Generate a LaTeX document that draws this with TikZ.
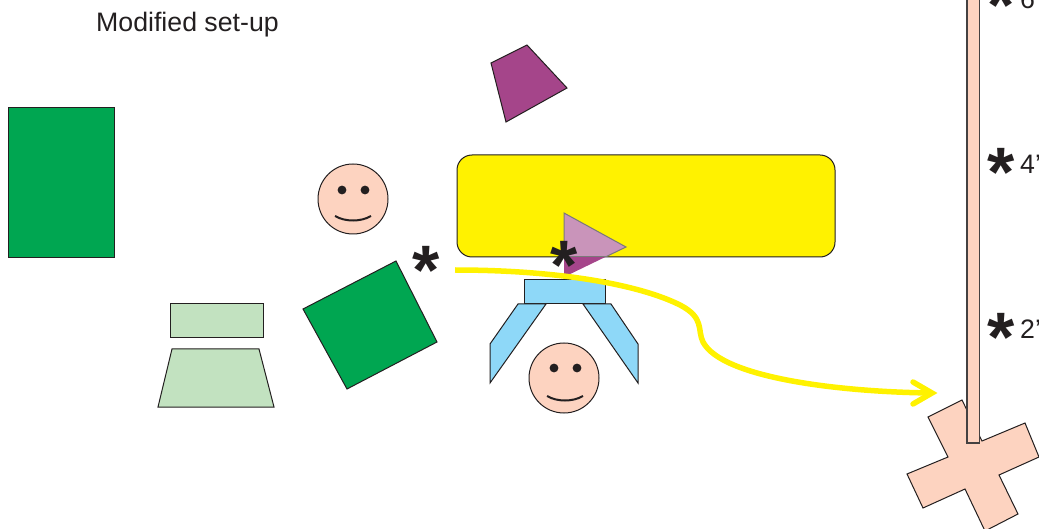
\documentclass[tikz,border=0pt]{standalone}
\usepackage{fontspec}
\setmainfont{Liberation Sans}
\newfontfamily\starfont[Scale=1]{Liberation Sans Bold}
\definecolor{grn}{HTML}{00A651}
\definecolor{lgrn}{HTML}{C2E2C0}
\definecolor{purp}{HTML}{A5458A}
\definecolor{lpurp}{HTML}{C994BA}
\definecolor{yel}{HTML}{FFF200}
\definecolor{skin}{HTML}{FDD3C0}
\definecolor{blu}{HTML}{8ED8F8}
\definecolor{ink}{HTML}{231F20}
\tikzset{
  shp/.style={draw=ink,line width=1pt,line join=miter},
  facebox/.style={shp,fill=skin},
  eye/.style={fill=ink,draw=none},
  smile/.style={draw=ink,line width=2pt},
  lbl/.style={inner sep=0pt,anchor=base west,text=ink,font=\fontsize{26.7}{28}\selectfont},
  starmark/.style={inner sep=0pt,anchor=base,text=ink,font=\starfont\fontsize{70}{72}\selectfont},
  yline/.style={draw=yel,line width=5.5pt}
}
\begin{document}
\begin{tikzpicture}[x=1pt,y=-1pt]
\useasboundingbox (0,0) rectangle (1039,529);
\clip (0,0) rectangle (1039,529);
\node[lbl,anchor=base west] (title) at (96,32) {Modified set-up};
\draw[shp,fill=grn] (8,107.5) rectangle (114,258);
\draw[shp,fill=purp] (491,63) -- (527,45) -- (567,88) -- (506,122) -- cycle;
\draw[shp,fill=lgrn] (170,303.5) rectangle (263,337.5);
\draw[shp,fill=lgrn] (172,349) -- (259,349) -- (274,407) -- (158,407) -- cycle;
\draw[shp,fill=grn] (303,309) -- (396,261) -- (437,342) -- (347,389) -- cycle;
% yellow panel and triangle
\draw[shp,fill=yel,rounded corners=15pt] (457,155) rectangle (835,257);
\fill[purp] (564,213) -- (626,247) -- (564,277) -- cycle;
\begin{scope}
\clip (500,200) rectangle (700,257);
\fill[lpurp] (564,213) -- (626,247) -- (564,277) -- cycle;
\draw[draw=ink!60,line width=1pt] (564,277) -- (564,213) -- (626,247) -- (564,277);
\end{scope}
\draw[ink!60,line width=1pt] (564,257) -- (607,257);
% faces
\draw[facebox] (353,199) circle (35);
\fill[eye] (342,190) circle (4.4) (365,190) circle (4.4);
\draw[smile] (335,216) .. controls (345,222) and (361,222) .. (371,216);
\draw[facebox] (564,378) circle (35);
\fill[eye] (554,368) circle (4.4) (577,368) circle (4.4);
\draw[smile] (547,396) .. controls (557,402) and (573,402) .. (583,396);
% blue gripper
\draw[shp,fill=blu] (524,279.5) rectangle (605,304);
\draw[shp,fill=blu] (518,304) -- (546,304) -- (490,383) -- (490,344) -- cycle;
\draw[shp,fill=blu] (583,304) -- (611,304) -- (638,344) -- (638,383) -- cycle;
% cross and post
\draw[shp,fill=skin] (928,417) -- (962,400) -- (982,441) -- (1025,423) -- (1039,457) -- (999,475) -- (1018,514) -- (985,531) -- (965,489) -- (923,508) -- (907,474) -- (948,457) -- cycle;
\draw[shp,draw=ink!85,line width=1.3pt,fill=skin] (967,-5) rectangle (979.5,443);
% yellow route
\coordinate (rs) at (455,270);
\coordinate (rt) at (932,393);
\draw[yline] (rs) .. controls (560,270) and (640,285) .. (680,305)
  .. controls (705,318) and (697,330) .. (703,342)
  .. controls (722,378) and (840,392) .. (rt);
\draw[yline,line cap=round,line join=miter] (913,382) -- (rt) -- (913,404);
% stars
\node[starmark] (s1) at (426,295) {*};
\node[starmark] (s2) at (564,290) {*};
\node[starmark] (s3) at (1001,30) {*};
\node[starmark] (s4) at (1001,197) {*};
\node[starmark] (s5) at (1001,362) {*};
\node[lbl] (l6) at (1020,8.5) {6’};
\node[lbl] (l4) at (1020,174) {4’};
\node[lbl] (l2) at (1020,339) {2’};
\end{tikzpicture}
\end{document}
